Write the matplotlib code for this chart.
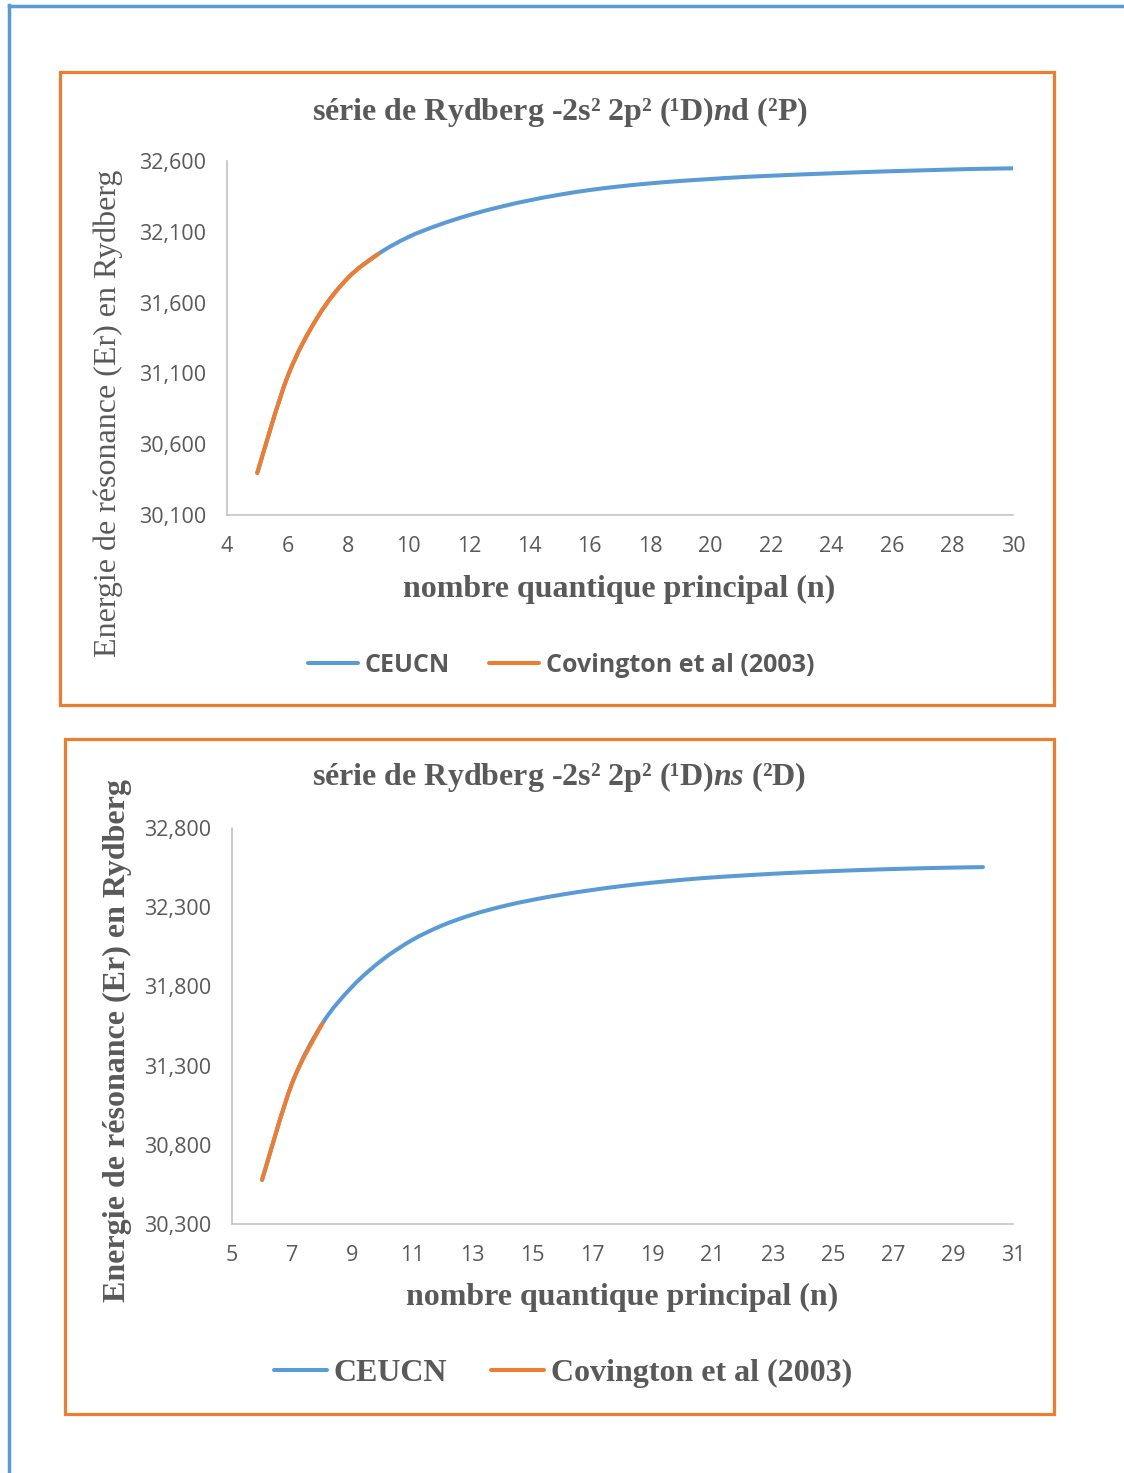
import matplotlib
matplotlib.use("Agg")
import matplotlib.pyplot as plt
from matplotlib.patches import Rectangle, PathPatch
from matplotlib.path import Path
from matplotlib.lines import Line2D
from matplotlib.ticker import FuncFormatter

# --- data ---
n_nd = list(range(5, 31))
ceucn_nd = [30397, 31075, 31498, 31774, 31943, 32063, 32148, 32217, 32274, 32322,
            32362, 32395, 32421, 32442, 32459, 32473, 32486, 32496, 32505, 32513,
            32521, 32528, 32534, 32540, 32545, 32548]
n_cov_nd = [5, 6, 7, 8, 9]
cov_nd = [30397, 31075, 31498, 31774, 31943]

n_ns = list(range(6, 31))
ceucn_ns = [30578, 31188, 31563, 31798, 31967, 32093, 32185, 32253, 32305, 32346,
            32380, 32409, 32434, 32455, 32473, 32488, 32500, 32511, 32520, 32528,
            32535, 32541, 32546, 32550, 32553]
n_cov_ns = [6, 7, 8]
cov_ns = [30578, 31188, 31563]

xticks_nd = list(range(4, 31, 2))
yticks_nd = [30100, 30600, 31100, 31600, 32100, 32600]
xticks_ns = list(range(5, 32, 2))
yticks_ns = [30300, 30800, 31300, 31800, 32300, 32800]

title_nd = r"série de Rydberg -2s² 2p² (¹D)$\mathit{n}$d (²P)"
title_ns = r"série de Rydberg -2s² 2p² (¹D)$\mathit{ns}$ (²D)"
xlab = "nombre quantique principal (n)"
ylab = "Energie de résonance (Er) en Rydberg"
labels = ["CEUCN", "Covington et al (2003)"]

BLUE = "#5B9BD5"
ORANGE = "#ED7D31"
GREY = "#595959"
SPINE = "#BFBFBF"

plt.rcParams["mathtext.fontset"] = "custom"
plt.rcParams["mathtext.rm"] = "Liberation Serif:bold"
plt.rcParams["mathtext.it"] = "Liberation Serif:italic:bold"
plt.rcParams["mathtext.bf"] = "Liberation Serif:bold"

W, H = 1124, 1473
fig = plt.figure(figsize=(W / 100, H / 100), dpi=100)


def fx(x):
    return x / W


def fy(y):
    return 1 - y / H


def box(x0, y0, x1, y1, color, lw):
    fig.add_artist(Rectangle((fx(x0), fy(y1)), fx(x1) - fx(x0), fy(y0) - fy(y1),
                             transform=fig.transFigure, fill=False,
                             edgecolor=color, linewidth=lw))


def smooth_line(ax, xs, ys, color):
    # Excel-style smoothed line: Catmull-Rom through the data points as Bezier curves
    pts = list(zip(xs, ys))
    verts = [pts[0]]
    codes = [Path.MOVETO]
    for i in range(len(pts) - 1):
        p0 = pts[max(i - 1, 0)]
        p1 = pts[i]
        p2 = pts[i + 1]
        p3 = pts[min(i + 2, len(pts) - 1)]
        c1 = (p1[0] + (p2[0] - p0[0]) / 6, p1[1] + (p2[1] - p0[1]) / 6)
        c2 = (p2[0] - (p3[0] - p1[0]) / 6, p2[1] - (p3[1] - p1[1]) / 6)
        verts += [c1, c2, p2]
        codes += [Path.CURVE4] * 3
    ax.add_patch(PathPatch(Path(verts, codes), fill=False, edgecolor=color,
                           linewidth=2.9, capstyle="round", joinstyle="round"))


# page border (top + left)
fig.add_artist(Line2D([fx(9), fx(1124)], [fy(6), fy(6)], transform=fig.transFigure,
                      color=BLUE, linewidth=2.5))
fig.add_artist(Line2D([fx(9), fx(9)], [fy(5), fy(1473)], transform=fig.transFigure,
                      color=BLUE, linewidth=2.5))

# chart frames
box(60, 72, 1054, 705, ORANGE, 2.3)
box(65, 739, 1054, 1414, ORANGE, 2.3)


def make_axes(x0, y0, x1, y1):
    ax = fig.add_axes([fx(x0), fy(y1), fx(x1) - fx(x0), fy(y0) - fy(y1)])
    for s in ["top", "right"]:
        ax.spines[s].set_visible(False)
    for s in ["left", "bottom"]:
        ax.spines[s].set_color(SPINE)
        ax.spines[s].set_linewidth(1.1)
    ax.tick_params(length=0, labelcolor=GREY, labelsize=15.5)
    ax.tick_params(axis="x", pad=15)
    ax.tick_params(axis="y", pad=15)
    ax.yaxis.set_major_formatter(FuncFormatter(lambda v, p: f"{v:,.0f}"))
    return ax


handles = [Line2D([], [], color=BLUE, lw=2.9, solid_capstyle="round"),
           Line2D([], [], color=ORANGE, lw=2.9, solid_capstyle="round")]

# ---- top chart: nd series ----
ax1 = make_axes(227, 161, 1013, 515)
smooth_line(ax1, n_nd, ceucn_nd, BLUE)
smooth_line(ax1, n_cov_nd, cov_nd, ORANGE)
ax1.set_xlim(4, 30)
ax1.set_ylim(30100, 32600)
ax1.set_xticks(xticks_nd)
ax1.set_yticks(yticks_nd)
for lab in ax1.get_xticklabels() + ax1.get_yticklabels():
    lab.set_fontfamily("Open Sans")

fig.text(fx(560), fy(112), title_nd, ha="center", va="center", fontsize=23,
         family="Liberation Serif", weight="bold", color=GREY)
fig.text(fx(619), fy(589), xlab, ha="center", va="center", fontsize=23,
         family="Liberation Serif", weight="bold", color=GREY)
fig.text(fx(108), fy(413), ylab, ha="center", va="center", rotation=90, fontsize=23,
         family="Liberation Serif", color=GREY)

fig.legend(handles, labels, loc="center", bbox_to_anchor=(fx(561), fy(665)), ncol=2,
           frameon=False, handlelength=2.0, handletextpad=0.25, columnspacing=1.6,
           prop={"family": "Open Sans", "weight": "bold", "size": 18},
           labelcolor=GREY)

# ---- bottom chart: ns series ----
ax2 = make_axes(232, 828, 1013, 1224)
smooth_line(ax2, n_ns, ceucn_ns, BLUE)
smooth_line(ax2, n_cov_ns, cov_ns, ORANGE)
ax2.set_xlim(5, 31)
ax2.set_ylim(30300, 32800)
ax2.set_xticks(xticks_ns)
ax2.set_yticks(yticks_ns)
for lab in ax2.get_xticklabels() + ax2.get_yticklabels():
    lab.set_fontfamily("Open Sans")

fig.text(fx(559), fy(777), title_ns, ha="center", va="center", fontsize=23,
         family="Liberation Serif", weight="bold", color=GREY)
fig.text(fx(622), fy(1297), xlab, ha="center", va="center", fontsize=23,
         family="Liberation Serif", weight="bold", color=GREY)
fig.text(fx(117), fy(1040), ylab, ha="center", va="center", rotation=90, fontsize=23,
         family="Liberation Serif", weight="bold", color=GREY)

fig.legend(handles, labels, loc="center", bbox_to_anchor=(fx(563), fy(1373)), ncol=2,
           frameon=False, handlelength=1.65, handletextpad=0.2, columnspacing=1.4,
           prop={"family": "Liberation Serif", "weight": "bold", "size": 23},
           labelcolor=GREY)

fig.savefig("out.png", dpi=100)
